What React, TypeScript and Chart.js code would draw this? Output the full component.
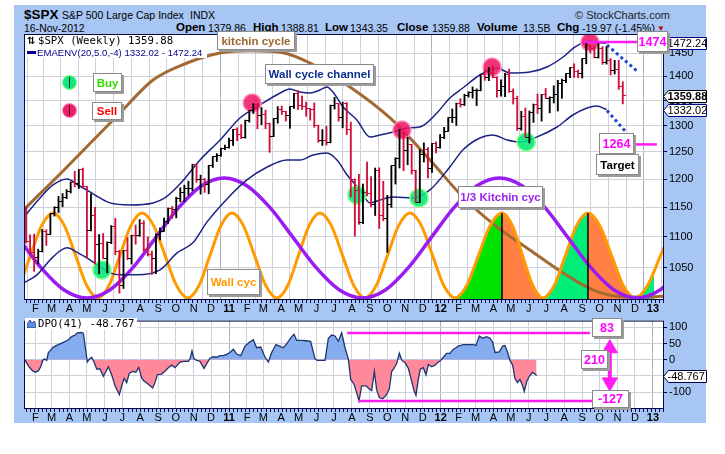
import React, { useEffect, useRef } from "react";
import { Chart, registerables } from "chart.js";

Chart.register(...registerables);

const FONT = "'Liberation Sans', Arial, Helvetica, sans-serif";
const MONO = "'DejaVu Sans Mono', 'Liberation Mono', monospace";

// ---------- weekly $SPX bars, index 0 = week of 22-Jan-2010 ----------
const barOpen = [
  1136.0, 1091.8, 1073.9, 1066.2, 1075.5, 1109.2, 1104.5, 1138.7, 1150.0, 1159.9,
  1166.6, 1178.1, 1194.4, 1192.1, 1217.3, 1186.7, 1110.9, 1135.7, 1087.7, 1089.4,
  1064.9, 1091.6, 1117.5, 1076.8, 1022.6, 1078.0, 1064.9, 1102.7, 1101.6, 1121.6,
  1079.3, 1071.7, 1064.6, 1104.5, 1109.6, 1125.6, 1148.7, 1146.2, 1165.2, 1176.2,
  1183.1, 1183.3, 1225.9, 1199.2, 1199.7, 1189.4, 1224.7, 1240.4, 1243.9, 1256.8,
  1257.6, 1271.5, 1293.2, 1283.4, 1276.3, 1310.9, 1329.2, 1343.0, 1319.9, 1321.2,
  1304.3, 1279.2, 1313.8, 1332.4, 1328.2, 1319.7, 1337.4, 1363.6, 1340.2, 1337.8,
  1333.3, 1331.1, 1300.2, 1271.0, 1271.5, 1268.5, 1339.7, 1343.8, 1316.1, 1345.0,
  1292.3, 1199.4, 1178.8, 1123.5, 1176.8, 1174.0, 1154.2, 1216.0, 1136.4, 1131.4,
  1155.5, 1224.6, 1238.3, 1285.1, 1253.2, 1263.9, 1215.7, 1158.7, 1244.3, 1255.2,
  1219.7, 1265.3, 1257.6, 1277.8, 1289.1, 1315.4, 1316.3, 1344.9, 1342.6, 1361.2,
  1365.7, 1369.6, 1370.9, 1404.2, 1397.1, 1408.5, 1398.1, 1370.3, 1378.5, 1403.4,
  1369.1, 1353.4, 1295.2, 1317.8, 1278.0, 1325.7, 1342.8, 1335.0, 1362.2, 1354.7,
  1356.8, 1362.7, 1386.0, 1391.0, 1405.9, 1418.2, 1411.1, 1406.6, 1437.9, 1465.8,
  1460.2, 1440.7, 1460.9, 1428.6, 1433.2, 1411.9, 1414.2, 1379.86,
];
const barHigh = [
  1150.5, 1103.7, 1104.7, 1080.0, 1112.4, 1112.0, 1139.0, 1151.0, 1169.0, 1174.0,
  1181.0, 1194.7, 1214.0, 1217.0, 1219.8, 1187.0, 1173.6, 1150.0, 1104.0, 1105.7,
  1092.0, 1119.0, 1131.0, 1078.0, 1078.0, 1099.0, 1103.0, 1120.0, 1129.0, 1127.0,
  1100.0, 1077.0, 1105.0, 1115.0, 1131.5, 1148.9, 1151.4, 1167.7, 1184.4, 1189.0,
  1196.0, 1227.0, 1227.0, 1207.0, 1201.0, 1225.0, 1240.4, 1246.7, 1257.0, 1262.6,
  1276.0, 1293.0, 1296.0, 1302.0, 1311.0, 1330.0, 1344.0, 1344.0, 1336.0, 1330.8,
  1305.0, 1314.0, 1337.8, 1339.0, 1328.6, 1337.5, 1364.6, 1370.6, 1359.4, 1346.8,
  1334.0, 1345.2, 1301.0, 1292.5, 1298.6, 1341.0, 1356.5, 1344.0, 1347.0, 1346.0,
  1307.0, 1200.0, 1208.5, 1190.7, 1230.7, 1204.4, 1220.0, 1220.4, 1195.9, 1171.0,
  1224.6, 1239.0, 1292.7, 1285.5, 1277.6, 1264.0, 1216.0, 1254.0, 1267.0, 1258.0,
  1265.4, 1269.0, 1283.0, 1296.8, 1315.5, 1333.0, 1345.0, 1354.0, 1363.0, 1368.0,
  1378.0, 1374.0, 1405.0, 1414.0, 1419.0, 1422.4, 1399.0, 1392.8, 1406.6, 1415.3,
  1373.9, 1359.0, 1328.5, 1334.9, 1329.0, 1343.0, 1363.5, 1362.2, 1374.8, 1357.7,
  1380.4, 1391.7, 1394.2, 1405.9, 1418.7, 1426.7, 1413.5, 1437.9, 1474.5, 1467.0,
  1465.0, 1471.0, 1464.0, 1464.0, 1438.0, 1434.0, 1434.3, 1388.81,
];
const barLow = [
  1090.2, 1071.6, 1044.5, 1056.5, 1075.5, 1086.0, 1104.5, 1135.0, 1141.0, 1151.0,
  1165.0, 1175.0, 1186.0, 1183.0, 1185.0, 1065.8, 1110.0, 1055.9, 1040.8, 1064.5,
  1042.0, 1089.0, 1071.0, 1010.9, 1018.0, 1063.0, 1056.0, 1088.0, 1101.0, 1076.6,
  1069.0, 1039.7, 1040.9, 1095.0, 1110.0, 1122.5, 1131.0, 1131.9, 1159.7, 1159.7,
  1171.0, 1179.0, 1194.0, 1173.0, 1176.0, 1173.6, 1221.0, 1232.0, 1241.5, 1254.0,
  1257.0, 1262.0, 1271.0, 1275.0, 1276.0, 1307.0, 1324.0, 1294.0, 1302.0, 1294.0,
  1249.0, 1279.0, 1305.0, 1322.0, 1309.0, 1295.0, 1334.0, 1332.0, 1332.0, 1318.5,
  1311.0, 1297.0, 1268.0, 1262.0, 1262.7, 1267.0, 1333.0, 1309.0, 1295.9, 1282.9,
  1168.0, 1101.5, 1121.0, 1122.0, 1170.0, 1151.0, 1136.0, 1114.0, 1127.0, 1074.8,
  1150.0, 1191.0, 1220.0, 1215.0, 1226.0, 1209.0, 1158.7, 1158.7, 1231.0, 1202.0,
  1212.0, 1248.0, 1257.0, 1275.0, 1290.0, 1306.0, 1300.5, 1337.0, 1340.0, 1357.0,
  1354.9, 1340.0, 1370.0, 1391.6, 1391.0, 1397.0, 1357.0, 1358.8, 1358.0, 1367.0,
  1343.0, 1291.0, 1291.0, 1277.8, 1266.7, 1306.6, 1324.0, 1309.0, 1354.7, 1325.4,
  1345.0, 1329.0, 1354.6, 1387.0, 1397.3, 1398.0, 1397.0, 1396.6, 1426.7, 1450.0,
  1439.2, 1439.0, 1425.5, 1426.0, 1403.0, 1405.0, 1373.0, 1343.35,
];
const barClose = [
  1091.8, 1073.9, 1066.2, 1075.5, 1109.2, 1104.5, 1138.7, 1150.0, 1159.9, 1166.6,
  1178.1, 1194.4, 1192.1, 1217.3, 1186.7, 1110.9, 1135.7, 1087.7, 1089.4, 1064.9,
  1091.6, 1117.5, 1076.8, 1022.6, 1078.0, 1064.9, 1102.7, 1101.6, 1121.6, 1079.3,
  1071.7, 1064.6, 1104.5, 1109.6, 1125.6, 1148.7, 1146.2, 1165.2, 1176.2, 1183.1,
  1183.3, 1225.9, 1199.2, 1199.7, 1189.4, 1224.7, 1240.4, 1243.9, 1256.8, 1257.6,
  1271.5, 1293.2, 1283.4, 1276.3, 1310.9, 1329.2, 1343.0, 1319.9, 1321.2, 1304.3,
  1279.2, 1313.8, 1332.4, 1328.2, 1319.7, 1337.4, 1363.6, 1340.2, 1337.8, 1333.3,
  1331.1, 1300.2, 1271.0, 1271.5, 1268.5, 1339.7, 1343.8, 1316.1, 1345.0, 1292.3,
  1199.4, 1178.8, 1123.5, 1176.8, 1174.0, 1154.2, 1216.0, 1136.4, 1131.4, 1155.5,
  1224.6, 1238.3, 1285.1, 1253.2, 1263.9, 1215.7, 1158.7, 1244.3, 1255.2, 1219.7,
  1265.3, 1257.6, 1277.8, 1289.1, 1315.4, 1316.3, 1344.9, 1342.6, 1361.2, 1365.7,
  1369.6, 1370.9, 1404.2, 1397.1, 1408.5, 1398.1, 1370.3, 1378.5, 1403.4, 1369.1,
  1353.4, 1295.2, 1317.8, 1278.0, 1325.7, 1342.8, 1335.0, 1362.2, 1354.7, 1356.8,
  1362.7, 1386.0, 1391.0, 1405.9, 1418.2, 1411.1, 1406.6, 1437.9, 1465.8, 1460.2,
  1440.7, 1460.9, 1428.6, 1433.2, 1411.9, 1414.2, 1379.9, 1359.88,
];

// ---------- EMAENV(20,5.0,-4) bands (x = week index) ----------
const upperBandX = [-0.5, 3.45, 6.65, 10.1, 12.8, 15.76, 18.2, 20.7, 25.6, 31.3, 34.2, 37.9, 42.86, 47.8, 52.7, 57.6, 62.6, 65.0, 67.5, 69.95, 72.4, 74.1, 75.6, 78.1, 81.5, 84.7, 87.2, 90.4, 93.8, 97.0, 101.2, 104.4, 107.6, 111.8, 116.0, 119.2, 124.1, 128.3, 132.3, 135.2, 138.9, 141.9, 143.0];
const upperBandY = [1133.6, 1166.4, 1189.3, 1200.1, 1189.3, 1176.9, 1166.4, 1157.7, 1154.2, 1157.7, 1166.4, 1191.0, 1234.8, 1272.5, 1315.2, 1341.1, 1365.5, 1373.7, 1367.5, 1365.5, 1371.7, 1377.8, 1367.5, 1337.1, 1311.3, 1278.3, 1282.0, 1287.8, 1295.6, 1297.5, 1325.1, 1355.3, 1375.8, 1402.9, 1417.7, 1407.1, 1409.2, 1419.8, 1441.3, 1463.1, 1476.4, 1471.9, 1472.24];
const lowerBandX = [-0.5, 2.7, 6.65, 10.1, 12.8, 15.76, 18.2, 20.7, 23.15, 27.3, 33.0, 37.2, 41.1, 44.6, 49.5, 54.4, 59.4, 64.3, 67.5, 70.7, 74.1, 76.6, 79.1, 82.3, 84.7, 87.2, 90.4, 95.3, 99.5, 104.4, 107.6, 111.8, 115.0, 118.5, 121.7, 125.9, 130.8, 134.7, 138.2, 140.6, 143.0];
const lowerBandY = [1026.7, 1039.1, 1067.6, 1082.1, 1074.0, 1062.8, 1051.7, 1042.2, 1039.1, 1039.1, 1046.9, 1074.0, 1090.3, 1125.1, 1164.6, 1198.3, 1221.9, 1234.8, 1234.8, 1244.1, 1247.9, 1234.8, 1207.3, 1180.5, 1157.7, 1162.9, 1168.1, 1166.4, 1180.5, 1221.9, 1253.5, 1276.3, 1282.0, 1272.5, 1268.7, 1278.3, 1297.5, 1321.1, 1335.1, 1339.1, 1332.02];

// dotted projections of the channel
const upperProjX = [143.1, 150.5];
const upperProjY = [1467.5, 1411.3];
const lowerProjX = [143.1, 148.0];
const lowerProjY = [1330.0, 1285.8];

// ---------- drawn cycles ----------
const kitchinX = [-0.6, 9.36, 23.15, 31.28, 39.66, 47.78, 55.17, 63.3, 69.95, 79.8, 89.66, 99.5, 107.6, 116.0, 124.1, 132.3, 139.7, 148.0, 154.4, 157.3];
const kitchinY = [1145.5, 1216.4, 1325.2, 1392.4, 1428.4, 1450.0, 1455.0, 1450.7, 1428.4, 1377.9, 1315.2, 1234.9, 1168.1, 1116.7, 1078.7, 1042.1, 1015.7, 1005.2, 1005.2, 1006.7];

const wallX = [-4.45, -1.68, 1.10, 3.88, 6.65, 9.42, 12.19, 14.96, 17.73, 20.44, 23.15, 25.86, 28.57, 31.40, 34.24, 37.07, 39.90, 42.61, 45.32, 48.03, 50.74, 53.51, 56.28, 59.05, 61.82, 64.47, 67.12, 69.76, 72.41, 75.18, 77.96, 80.73, 83.50, 86.27, 89.04, 91.81, 94.58, 97.35, 100.13, 102.90, 105.67, 108.56, 111.46, 114.35, 117.24, 119.77, 122.29, 124.82, 127.34, 130.11, 132.88, 135.65, 138.42, 141.32, 144.21, 147.11, 150.00, 153.1, 156.3, 159.5];
const wallY = [
  1003.7, 1022.6, 1070.0, 1119.3, 1140.3, 1119.3, 1070.0, 1022.6,
  1003.7, 1022.6, 1070.0, 1119.3, 1140.3, 1119.3, 1070.0, 1022.6,
  1003.7, 1022.6, 1070.0, 1119.3, 1140.3, 1119.3, 1070.0, 1022.6,
  1003.7, 1022.6, 1070.0, 1119.3, 1140.3, 1119.3, 1070.0, 1022.6,
  1003.7, 1022.6, 1070.0, 1119.3, 1140.3, 1119.3, 1070.0, 1022.6,
  1003.7, 1022.6, 1070.0, 1119.3, 1140.3, 1119.3, 1070.0, 1022.6,
  1003.7, 1022.6, 1070.0, 1119.3, 1140.3, 1119.3, 1070.0, 1022.6,
  1003.7, 1022.6, 1070.0, 1119.3,
];
// shaded Wall-cycle phases
const fillStart = [105.67, 117.24, 127.34, 138.42, 150.0];
const fillEnd = [117.24, 127.34, 138.42, 150.0, 154.7];
const fillEndValue = [1140.3, 1003.7, 1140.3, 1003.7, 1045.0];
const fillColors = ["rgb(0,226,0)", "rgb(255,128,66)", "rgb(0,238,120)", "rgb(255,128,66)", "rgb(0,238,120)"];
const peakLineX = [117.24, 138.42];
const peakLineTop = [1140.3, 1140.3];

const thirdX = [-13.17, -7.53, -1.9, 3.73, 9.37, 15.0, 20.63, 26.27, 31.9, 37.53, 43.17, 48.8, 54.48, 60.17, 65.85, 71.53, 77.22, 82.9, 88.52, 94.13, 99.75, 105.37, 110.98, 116.6, 122.25, 127.9, 133.55, 139.2, 144.85, 150.5, 156.15, 161.8];
const thirdY = [1187.6, 1149, 1098.4, 1050, 1015.7, 1003.7, 1015.7, 1050, 1098.4, 1149, 1187.6, 1202, 1187.6, 1149, 1098.4, 1050, 1015.7, 1003.7, 1015.7, 1050, 1098.4, 1149, 1187.6, 1202, 1187.6, 1149, 1098.4, 1050, 1015.7, 1003.7, 1015.7, 1050];

// ---------- signals ----------
const buyX = [18.7, 81.5, 96.8, 123.2];
const buyY = [1046.9, 1171.6, 1166.4, 1268.7];
const sellX = [55.7, 92.6, 114.8, 138.9];
const sellY = [1345.2, 1291.6, 1419.8, 1474.1];

// ---------- price levels / target ----------
const priceLevels = [1474, 1264];
const priceLevelFrom = [137.2, 149.8];
const priceLevelTo = [150.5, 155.4];

// ---------- DPO(41) ----------
const dpoX = [-0.4, 0.57, 1.40, 2.22, 3.04, 3.61, 4.11, 4.52, 5.09, 5.50, 5.91, 6.73, 7.96, 9.20, 10.43, 11.25, 12.07, 12.64, 13.71, 14.12, 15.11, 15.60, 16.17, 16.75, 17.41, 18.23, 19.05, 19.70, 20.28, 21.10, 21.92, 22.99, 23.56, 24.14, 24.79, 25.45, 26.27, 27.09, 27.75, 28.49, 29.06, 30.13, 31.20, 31.77, 32.35, 33.42, 34.40, 35.06, 35.88, 36.70, 37.93, 39.00, 39.98, 40.39, 40.89, 41.38, 42.04, 42.86, 43.84, 44.66, 45.32, 46.14, 46.96, 47.78, 48.60, 49.43, 50.25, 51.07, 51.89, 52.87, 53.94, 55.01, 55.99, 56.81, 57.80, 58.87, 59.69, 60.51, 61.58, 62.40, 63.38, 64.37, 65.44, 66.01, 66.67, 67.90, 68.97, 70.11, 71.18, 71.76, 73.65, 74.47, 75.29, 76.11, 76.93, 77.75, 78.57, 79.39,
  79.97, 80.79, 81.28, 82.02, 82.68, 83.74, 84.56, 85.14, 85.80, 86.37, 87.03, 87.85, 88.67, 89.49, 90.07, 90.72, 91.30, 91.95, 92.61, 93.35, 94.17, 94.99, 95.57, 96.06, 96.63, 97.13, 97.87, 98.52, 99.10, 99.92, 100.74, 101.56, 102.13, 102.79, 103.61, 104.43, 105.09, 105.91, 106.49, 107.72, 108.95, 110.18, 110.84, 111.66, 112.48, 113.46, 114.29, 114.94, 115.52, 116.58, 117.41, 117.98, 118.64, 119.21, 119.87, 120.44, 121.02, 121.67, 122.33, 122.74, 123.32, 123.97, 124.79, 125.37, 125.78];
const dpoY = [2.9, -18.6, -31.4, -38.2, -34.3, -21.6, -2.0, 2.9, -2.0, 22.5, 27.4, 39.2, 47.0, 53.9, 61.7, 71.5, 76.4, 83.3, 84.3, 81.3, -6.9, 2.9, 7.8, -6.9, -28.4, -28.4, -51.0, -36.3, -21.6, -46.1, -80.4, -107.8, -80.4, -57.8, -70.6, -41.2, -36.3, -38.2, -23.5, -55.9, -65.7, -75.5, -87.2, -70.6, -46.1, -44.1, -33.3, -24.5, -16.7, -24.5, -6.9, -4.9, -4.9, 2.9, 27.4, 2.9, -2.0, -4.9, -26.5, -8.8, 4.9, 9.8, 7.8, 12.7, 12.7, 16.7, 22.5, 32.3, 17.6, 12.7, 42.1, 53.9, 61.7, 37.2, 39.2, 7.8, -6.9, 22.5, 47.0, 42.1, 37.2, 51.9, 71.5, 79.4, 59.8, 59.8, 58.8, 56.8, 2.9, -2.0, -2.0, 66.6, 76.4, 73.5, 56.8, 83.3, 37.2, 2.9,
  -60.8, -75.5, -95.1, -127, -80.4, -80.4, -90.2, -95.1, -36.3, -93.1, -116.6, -120.5, -109.8, -90.2, -36.3, -24.5, -11.8, 20.6, -2.0, -8.8, -26.5, -65.7, -95.1, -109.8, -60.8, -28.4, -24.5, -46.1, -14.7, -21.6, -16.7, -6.9, -2.0, 7.8, 19.6, 19.6, 30.4, 37.2, 42.1, 47.0, 47.0, 47.0, 44.1, 73.5, 66.6, 71.5, 66.6, 53.9, 22.5, 24.5, 42.1, 44.1, 22.5, -2.0, -16.7, -57.8, -70.6, -60.8, -80.4, -98.0, -67.6, -51.0, -39.2, -44.1, -48.767];
const dpoLevels = [83, -127];
const dpoLevelFrom = [79.1, 81.9];
const dpoLevelTo = [138.9, 139.7];
const dpoRange = 210;
const arrowX = 143.8;
const arrowEnds = [35.2, -69.5];

// ---------- axes ----------
const monthLabels = ["F", "M", "A", "M", "J", "J", "A", "S", "O", "N", "D", "11", "F", "M", "A", "M", "J", "J", "A", "S", "O", "N", "D", "12", "F", "M", "A", "M", "J", "J", "A", "S", "O", "N", "D", "13"];
const priceTicks = [1050, 1100, 1150, 1200, 1250, 1300, 1350, 1400, 1450];
const dpoTicks = [100, 50, 0, -50, -100];

const X_MIN = -0.5;
const X_MAX = 157.15;
const Y_MIN = 1000.6;
const Y_MAX = 1492;
const D_MIN = -152;
const D_MAX = 121;

const RED = "#d0103a";
const BLACK = "#000000";
const GRID = "#cfd0da";
const NAVY_BAND = "#1a2383";
const MAGENTA = "#ff1cf0";
const BLUE_BG = "#a7c6f3";

function buildMonthTicks() {
  const base = Date.UTC(2010, 0, 16);
  const wk = 7 * 86400000;
  return monthLabels.map((label, k) => ({ value: (Date.UTC(2010, 1 + k, 1) - base) / wk, label }));
}
const isYear = (i: number) => /^\d/.test(monthLabels[i] || "");

function xAxis(ticks: any[], height: number, pad: number) {
  return {
    type: "linear",
    min: X_MIN,
    max: X_MAX,
    offset: false,
    border: { display: false },
    grid: {
      color: (c: any) => (isYear(c.index) ? "#aeb0c0" : GRID),
      drawTicks: false,
    },
    afterBuildTicks: (s: any) => {
      s.ticks = ticks.map((t) => ({ value: t.value }));
    },
    afterFit: (s: any) => {
      s.height = height;
    },
    ticks: {
      autoSkip: false,
      maxRotation: 0,
      minRotation: 0,
      padding: pad,
      color: "#000",
      font: (c: any) => ({ family: FONT, size: 11, weight: isYear(c.index) ? "bold" : "normal" }),
      callback: (_v: any, i: number) => ticks[i].label,
    },
  };
}

function drawValueBox(ctx: CanvasRenderingContext2D, right: number, yPix: number, b: any) {
  const y = Math.round(yPix) + 0.5;
  const x0 = right - 0.5;
  const x1 = 706.5;
  const h = 12;
  ctx.beginPath();
  ctx.moveTo(x0, y);
  ctx.lineTo(x0 + 5, y - h / 2);
  ctx.lineTo(x1, y - h / 2);
  ctx.lineTo(x1, y + h / 2);
  ctx.lineTo(x0 + 5, y + h / 2);
  ctx.closePath();
  ctx.fillStyle = "#fff";
  ctx.fill();
  ctx.lineWidth = 1;
  ctx.strokeStyle = b.border;
  ctx.stroke();
  ctx.fillStyle = "#000";
  ctx.font = `${b.bold ? "bold " : ""}11px ${FONT}`;
  ctx.textAlign = "left";
  ctx.textBaseline = "middle";
  ctx.fillText(b.text, x0 + 4, y + 0.5);
}

function panelPlugin(boxes: any[]) {
  return {
    id: "panel",
    beforeDraw(chart: any) {
      const { ctx, chartArea: a } = chart;
      ctx.save();
      ctx.fillStyle = "#fff";
      ctx.fillRect(a.left, a.top, a.right - a.left, a.bottom - a.top);
      ctx.restore();
    },
    afterDraw(chart: any) {
      const { ctx, chartArea: a, scales } = chart;
      ctx.save();
      ctx.strokeStyle = "#000050";
      ctx.lineWidth = 1;
      ctx.beginPath();
      for (let i = 0; i <= Math.floor(X_MAX); i++) {
        const x = Math.round(scales.x.getPixelForValue(i)) + 0.5;
        ctx.moveTo(x, a.bottom);
        ctx.lineTo(x, a.bottom + 3);
      }
      ctx.stroke();
      ctx.strokeStyle = "#0a0a40";
      ctx.strokeRect(a.left + 0.5, a.top + 0.5, a.right - a.left - 1, a.bottom - a.top - 1);
      boxes.forEach((b) => drawValueBox(ctx, a.right, scales.y.getPixelForValue(b.value), b));
      ctx.restore();
    },
  };
}

function tickImage(color: string, left: boolean) {
  const c = document.createElement("canvas");
  c.width = 7;
  c.height = 1;
  const g = c.getContext("2d")!;
  g.fillStyle = color;
  g.fillRect(left ? 0 : 3, 0, 4, 1);
  return c;
}

const pts = (xs: number[], ys: number[]) => xs.map((x, i) => ({ x, y: ys[i] }));

function Box(p: any) {
  return (
    <div
      style={{
        position: "absolute",
        left: p.l,
        top: p.t,
        width: p.w,
        height: p.h,
        boxSizing: "border-box",
        background: "#fff",
        border: "1px solid #8a8a8a",
        boxShadow: "2px 2px 0 #9c9c9c",
        color: p.color,
        font: `bold ${p.size || 11.5}px ${FONT}`,
        display: "flex",
        alignItems: "center",
        justifyContent: "center",
        whiteSpace: "nowrap",
      }}
    >
      {p.text}
    </div>
  );
}

export default function App() {
  const mainRef = useRef<HTMLCanvasElement>(null);
  const dpoRef = useRef<HTMLCanvasElement>(null);

  useEffect(() => {
    const ticks = buildMonthTicks();
    const barColors = barClose.map((c, i) => (c < barOpen[i] ? RED : BLACK));
    const openImgs = { [RED]: tickImage(RED, true), [BLACK]: tickImage(BLACK, true) } as any;
    const closeImgs = { [RED]: tickImage(RED, false), [BLACK]: tickImage(BLACK, false) } as any;
    const wallPts = pts(wallX, wallY);

    const fills = fillStart.map((s, k) => {
      const e = fillEnd[k];
      const seg = wallPts.filter((p) => p.x >= s - 1e-6 && p.x <= e + 1e-6);
      if (seg[seg.length - 1].x < e - 1e-6) seg.push({ x: e, y: fillEndValue[k] });
      return {
        type: "line",
        data: seg,
        borderWidth: 0,
        pointRadius: 0,
        fill: "start",
        backgroundColor: fillColors[k],
        cubicInterpolationMode: "monotone",
        order: 20,
      };
    });

    const curve = (data: any[], color: string, width: number, order: number, extra: any = {}) => ({
      type: "line",
      data,
      borderColor: color,
      borderWidth: width,
      pointRadius: 0,
      fill: false,
      cubicInterpolationMode: "monotone",
      order,
      ...extra,
    });

    const lastClose = barClose[barClose.length - 1];
    const mainBoxes = [
      { value: upperBandY[upperBandY.length - 1], text: upperBandY[upperBandY.length - 1].toFixed(2), border: "#000080" },
      { value: lowerBandY[lowerBandY.length - 1], text: lowerBandY[lowerBandY.length - 1].toFixed(2), border: "#000080" },
      { value: lastClose, text: lastClose.toFixed(2), border: "#000000", bold: true },
    ];

    const main = new Chart(mainRef.current!, {
      type: "line",
      data: {
        datasets: [
          ...fills,
          curve(pts(kitchinX, kitchinY), "#a26a32", 3, 9),
          curve(wallPts, "#ff9a00", 3, 8),
          curve(pts(thirdX, thirdY), "#9b1cf2", 3.5, 7),
          ...peakLineX.map((x, k) =>
            curve([{ x, y: peakLineTop[k] }, { x, y: Y_MIN }], "#000", 1.5, 6, { cubicInterpolationMode: "default" })
          ),
          curve(pts(upperBandX, upperBandY), NAVY_BAND, 1.5, 5),
          curve(pts(lowerBandX, lowerBandY), NAVY_BAND, 1.5, 5),
          curve(pts(upperProjX, upperProjY), "#2146cf", 3, 5, { borderDash: [3, 3], cubicInterpolationMode: "default" }),
          curve(pts(lowerProjX, lowerProjY), "#2146cf", 3, 5, { borderDash: [3, 3], cubicInterpolationMode: "default" }),
          {
            type: "line",
            showLine: false,
            data: pts(buyX, buyY),
            pointRadius: 9,
            pointBackgroundColor: "rgba(0,232,120,0.88)",
            pointBorderColor: "#7dff7d",
            pointBorderWidth: 1.5,
            order: 3,
          },
          {
            type: "line",
            showLine: false,
            data: pts(sellX, sellY),
            pointRadius: 9,
            pointBackgroundColor: "rgba(238,18,100,0.85)",
            pointBorderColor: "#ff8cbc",
            pointBorderWidth: 1.5,
            order: 3,
          },
          {
            type: "bar",
            data: barHigh.map((h, i) => ({ x: i, y: [barLow[i], h] })),
            backgroundColor: barColors,
            borderWidth: 0,
            barThickness: 1.2,
            grouped: false,
            order: 1,
          },
          {
            type: "line",
            showLine: false,
            data: barOpen.map((o, i) => ({ x: i, y: o })),
            pointStyle: barColors.map((c) => openImgs[c]),
            pointRadius: 2,
            order: 0,
          },
          {
            type: "line",
            showLine: false,
            data: barClose.map((c, i) => ({ x: i, y: c })),
            pointStyle: barColors.map((c) => closeImgs[c]),
            pointRadius: 2,
            order: 0,
          },
          ...priceLevels.map((v, k) =>
            curve([{ x: priceLevelFrom[k], y: v }, { x: priceLevelTo[k], y: v }], MAGENTA, 2.5, -1, { cubicInterpolationMode: "default" })
          ),
        ] as any,
      },
      options: {
        responsive: false,
        animation: false,
        events: [],
        layout: { padding: { left: 24, top: 34, right: 0, bottom: 0 }, autoPadding: false } as any,
        plugins: { legend: { display: false }, tooltip: { enabled: false } },
        scales: {
          x: xAxis(ticks, 16, 2) as any,
          y: {
            type: "logarithmic",
            position: "right",
            min: Y_MIN,
            max: Y_MAX,
            border: { display: false },
            grid: { color: GRID, drawTicks: true, tickLength: 3, tickColor: "#000050" },
            afterBuildTicks: (s: any) => {
              s.ticks = priceTicks.map((v) => ({ value: v }));
            },
            afterFit: (s: any) => {
              s.width = 61;
            },
            ticks: {
              autoSkip: false,
              padding: 2,
              color: "#000",
              font: { family: FONT, size: 11 },
              callback: (v: any) => String(v),
            },
          } as any,
        },
      },
      plugins: [panelPlugin(mainBoxes)],
    });

    const dpoLast = dpoY[dpoY.length - 1];
    const dpo = new Chart(dpoRef.current!, {
      type: "line",
      data: {
        datasets: [
          {
            type: "line",
            data: pts(dpoX, dpoY),
            borderColor: "#1c3570",
            borderWidth: 1.3,
            pointRadius: 0,
            tension: 0,
            fill: { target: { value: 0 }, above: "rgb(132,172,238)", below: "rgb(255,136,155)" },
            order: 2,
          },
          ...dpoLevels.map((v, k) => ({
            type: "line",
            data: [{ x: dpoLevelFrom[k], y: v }, { x: dpoLevelTo[k], y: v }],
            borderColor: MAGENTA,
            borderWidth: 2.5,
            pointRadius: 0,
            fill: false,
            order: 1,
          })),
          {
            type: "line",
            data: [{ x: arrowX, y: arrowEnds[0] }, { x: arrowX, y: arrowEnds[1] }],
            borderColor: MAGENTA,
            borderWidth: 4,
            pointStyle: "triangle",
            pointRadius: 8.7,
            pointRotation: [0, 180],
            pointBackgroundColor: MAGENTA,
            pointBorderColor: MAGENTA,
            pointBorderWidth: 1,
            fill: false,
            order: 0,
          },
        ] as any,
      },
      options: {
        responsive: false,
        animation: false,
        events: [],
        layout: { padding: { left: 24, top: 5, right: 0, bottom: 0 }, autoPadding: false } as any,
        plugins: { legend: { display: false }, tooltip: { enabled: false } },
        scales: {
          x: xAxis(ticks, 33, 2) as any,
          y: {
            type: "linear",
            position: "right",
            min: D_MIN,
            max: D_MAX,
            border: { display: false },
            grid: { color: GRID, drawTicks: true, tickLength: 3, tickColor: "#000050" },
            afterBuildTicks: (s: any) => {
              s.ticks = dpoTicks.map((v) => ({ value: v }));
            },
            afterFit: (s: any) => {
              s.width = 61;
            },
            ticks: {
              autoSkip: false,
              padding: 2,
              color: "#000",
              font: { family: FONT, size: 11 },
              callback: (v: any) => String(v),
            },
          } as any,
        },
      },
      plugins: [panelPlugin([{ value: dpoLast, text: String(dpoLast), border: "#000040" }])],
    });

    return () => {
      main.destroy();
      dpo.destroy();
    };
  }, []);

  const lastClose = barClose[barClose.length - 1];
  const stat = (l: number, text: string, bold: boolean) => (
    <span
      style={{
        position: "absolute",
        left: l,
        top: bold ? 21 : 22,
        font: `${bold ? "bold 11.5px" : "10.5px"} ${FONT}`,
        lineHeight: "12px",
        color: "#000",
        whiteSpace: "nowrap",
      }}
    >
      {text}
    </span>
  );

  return (
    <div style={{ position: "absolute", left: 0, top: 0, width: 725, height: 454, background: "#fff", overflow: "hidden" }}>
      <div style={{ position: "absolute", left: 14, top: 5, width: 692, height: 418, background: BLUE_BG }} />
      {/* header */}
      <span style={{ position: "absolute", left: 24, top: 7, font: `bold 13.5px ${FONT}`, lineHeight: "15px" }}>$SPX</span>
      <span style={{ position: "absolute", left: 62, top: 9, font: `10.5px ${FONT}`, lineHeight: "12px" }}>S&amp;P 500 Large Cap Index</span>
      <span style={{ position: "absolute", left: 190, top: 9, font: `10.5px ${FONT}`, lineHeight: "12px" }}>INDX</span>
      <span style={{ position: "absolute", left: 575, top: 9, font: `11px ${FONT}`, lineHeight: "12px", color: "#222" }}>© StockCharts.com</span>
      <span style={{ position: "absolute", left: 24, top: 22, font: `10.5px ${FONT}`, lineHeight: "12px" }}>16-Nov-2012</span>
      {stat(176, "Open", true)}
      {stat(208, "1379.86", false)}
      {stat(253, "High", true)}
      {stat(281, "1388.81", false)}
      {stat(325, "Low", true)}
      {stat(350, "1343.35", false)}
      {stat(397, "Close", true)}
      {stat(432, lastClose.toFixed(2), false)}
      {stat(477, "Volume", true)}
      {stat(523, "13.5B", false)}
      {stat(557, "Chg", true)}
      {stat(582, "-19.97 (-1.45%)", false)}
      <span style={{ position: "absolute", left: 657, top: 24, font: `8px ${FONT}`, color: "#c00000" }}>▼</span>

      <canvas ref={mainRef} width={725} height={316} style={{ position: "absolute", left: 0, top: 0 }} />
      <canvas ref={dpoRef} width={725} height={130} style={{ position: "absolute", left: 0, top: 312 }} />

      {/* in-plot legends */}
      <div style={{ position: "absolute", left: 25, top: 35, width: 182, height: 23, background: "#fff" }} />
      <span style={{ position: "absolute", left: 27, top: 35, font: `bold 10px 'DejaVu Sans', sans-serif`, lineHeight: "12px" }}>⇅</span>
      <span style={{ position: "absolute", left: 38, top: 35, font: `10.7px ${MONO}`, lineHeight: "12px", whiteSpace: "nowrap" }}>
        {`$SPX (Weekly) ${lastClose.toFixed(2)}`}
      </span>
      <div style={{ position: "absolute", left: 27, top: 51, width: 9, height: 2.5, background: "#00008b" }} />
      <span style={{ position: "absolute", left: 37, top: 47, font: `9.6px ${FONT}`, lineHeight: "11px", color: "#00008b", whiteSpace: "nowrap" }}>
        {`EMAENV(20,5.0,-4) ${lowerBandY[lowerBandY.length - 1].toFixed(2)} - ${upperBandY[upperBandY.length - 1].toFixed(2)}`}
      </span>

      <div style={{ position: "absolute", left: 25, top: 318, width: 112, height: 12, background: "#fff" }} />
      <svg width="9" height="9" style={{ position: "absolute", left: 27, top: 319 }}>
        <polygon points="0,9 0,5 3,1 5,4 7,2 9,5 9,9" fill="#5b8ee0" stroke="#1c3570" strokeWidth="0.8" />
      </svg>
      <span style={{ position: "absolute", left: 38, top: 318, font: `10.7px ${MONO}`, lineHeight: "12px", whiteSpace: "nowrap" }}>
        {`DPO(41) ${dpoY[dpoY.length - 1]}`}
      </span>

      {/* signal key */}
      <div style={{ position: "absolute", left: 62, top: 75, width: 15, height: 15, borderRadius: "50%", background: "rgba(0,232,120,0.95)", border: "1.5px solid #7dff7d", boxSizing: "border-box" }} />
      <div style={{ position: "absolute", left: 69, top: 77, width: 1, height: 11, background: "#222" }} />
      <div style={{ position: "absolute", left: 62, top: 103, width: 15, height: 15, borderRadius: "50%", background: "rgba(238,18,100,0.95)", border: "1.5px solid #ff8cbc", boxSizing: "border-box" }} />
      <div style={{ position: "absolute", left: 69, top: 105, width: 1, height: 11, background: "#400" }} />
      <Box l={93} t={73} w={29} h={19} color="#33dd00" text="Buy" />
      <Box l={92} t={102} w={30} h={18} color="#ff0000" text="Sell" />

      {/* annotations */}
      <Box l={217} t={31} w={78} h={19} color="#9c6630" text="kitchin cycle" />
      <Box l={265} t={64} w={109} h={20} color="#0d2f8f" text="Wall cycle channel" />
      <Box l={207} t={269} w={53} h={26} color="#ff9900" text="Wall cyc" />
      <Box l={458} t={186} w={85} h={22} color="#9922ee" text="1/3 Kitchin cyc" />
      <Box l={637} t={31} w={31} h={21} color="#ff00ff" text={String(priceLevels[0])} size={12.5} />
      <Box l={599} t={133} w={35} h={21} color="#ff00ff" text={String(priceLevels[1])} size={12.5} />
      <Box l={596} t={154} w={43} h={21} color="#000" text="Target" />
      <Box l={592} t={318} w={30} h={19} color="#ff00ff" text={String(dpoLevels[0])} size={12.5} />
      <Box l={581} t={350} w={27} h={19} color="#ff00ff" text={String(dpoRange)} size={12.5} />
      <Box l={592} t={390} w={37} h={18} color="#ff00ff" text={String(dpoLevels[1])} size={12.5} />
    </div>
  );
}
